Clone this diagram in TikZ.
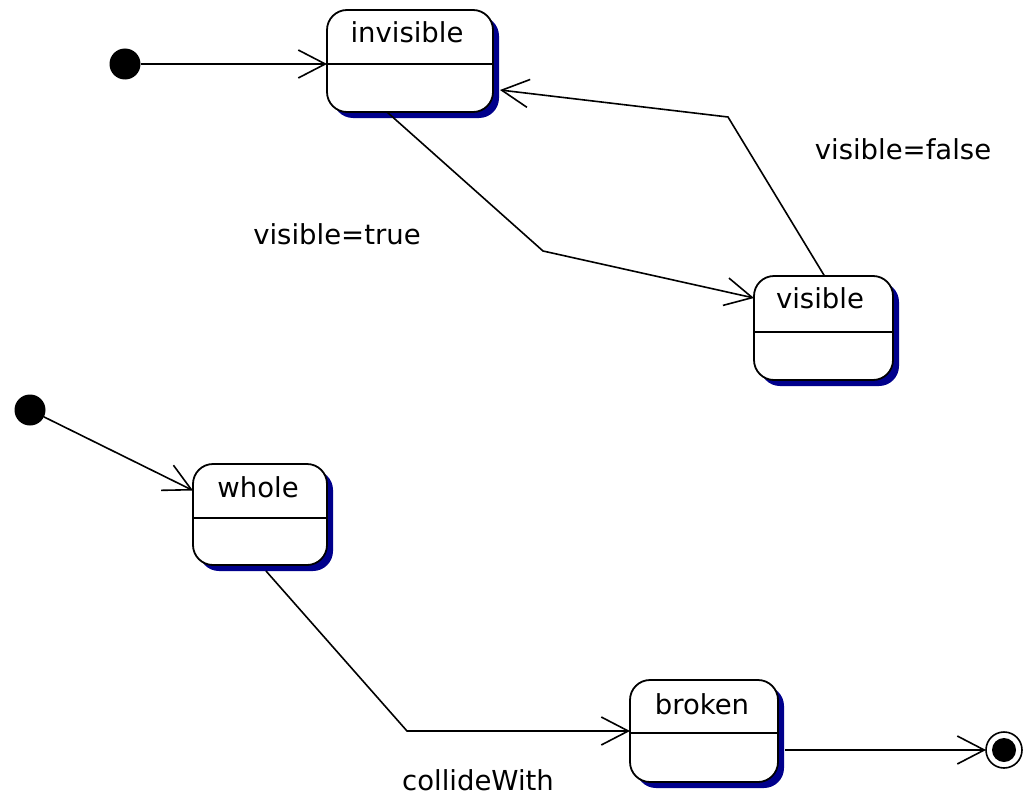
\documentclass[tikz,border=0pt]{standalone}
\usepackage{fontspec}
\newfontfamily\diafont{DejaVu Sans}
\usetikzlibrary{arrows.meta,shadows}
\definecolor{shadowblue}{RGB}{0,0,140}
\begin{document}
\begin{tikzpicture}[x=1pt,y=-1pt,
  state/.style={draw, line width=1.8pt, rounded corners=20pt, fill=white, inner sep=0pt, outer sep=0pt,
    drop shadow={shadow xshift=6pt, shadow yshift=-6pt, fill=shadowblue, opacity=1}},
  divider/.style={line width=1.8pt},
  lbl/.style={font=\diafont\fontsize{27.5}{33}\selectfont, inner sep=0pt, anchor=base},
  arr/.style={line width=1.6pt, -{Straight Barb[length=27pt,width=28pt,line width=1.6pt]}},
  initial/.style={circle, fill=black, minimum size=31pt, inner sep=0pt, outer sep=0pt},
]
\useasboundingbox (0,0) rectangle (1025,800);

% states
\node[state, minimum width=166pt, minimum height=102pt] (invisible) at (410,61) {};
\draw[divider] ([yshift=-54pt]invisible.north west) -- ([yshift=-54pt]invisible.north east);
\node[lbl] (invisible-name) at (407,43) {invisible};

\node[state, minimum width=139pt, minimum height=104pt] (visible) at (823.5,328) {};
\draw[divider] ([yshift=-56pt]visible.north west) -- ([yshift=-56pt]visible.north east);
\node[lbl] (visible-name) at (820,308) {visible};

\node[state, minimum width=134pt, minimum height=101pt] (whole) at (260,514.5) {};
\draw[divider] ([yshift=-54pt]whole.north west) -- ([yshift=-54pt]whole.north east);
\node[lbl] (whole-name) at (258,497) {whole};

\node[state, minimum width=148pt, minimum height=102pt] (broken) at (704,731) {};
\draw[divider] ([yshift=-53pt]broken.north west) -- ([yshift=-53pt]broken.north east);
\node[lbl] (broken-name) at (702,714) {broken};

% pseudo states
\node[initial] (init1) at (125,64) {};
\node[initial] (init2) at (30,410) {};
\node[circle, draw, line width=1.6pt, minimum size=36pt, inner sep=0pt, outer sep=0pt] (final) at (1004,750) {};
\node[circle, fill=black, minimum size=24pt, inner sep=0pt] (finaldot) at (final) {};

% waypoints
\coordinate (w1) at (543,251);
\coordinate (w2) at (728,117);
\coordinate (w3) at (407,731);

% transitions
\draw[arr] (init1) -- (invisible.west |- init1);
\draw[arr] ([xshift=-23pt]invisible.south) -- (w1) -- ([yshift=30pt]visible.west);
\draw[arr] ([xshift=1pt]visible.north) -- (w2) -- ([xshift=7pt,yshift=-29pt]invisible.east);
\draw[arr] (init2) -- ([yshift=24pt]whole.west);
\draw[arr] ([xshift=6pt,yshift=-6pt]whole.south) -- (w3) -- (broken.west);
\draw[arr] ([xshift=7pt,yshift=-19pt]broken.east) -- (final.west);

% labels
\node[lbl] (lbl-true) at (337,244) {visible=true};
\node[lbl] (lbl-false) at (903,159) {visible=false};
\node[lbl] (lbl-collide) at (478,790) {collideWith};
\end{tikzpicture}
\end{document}
